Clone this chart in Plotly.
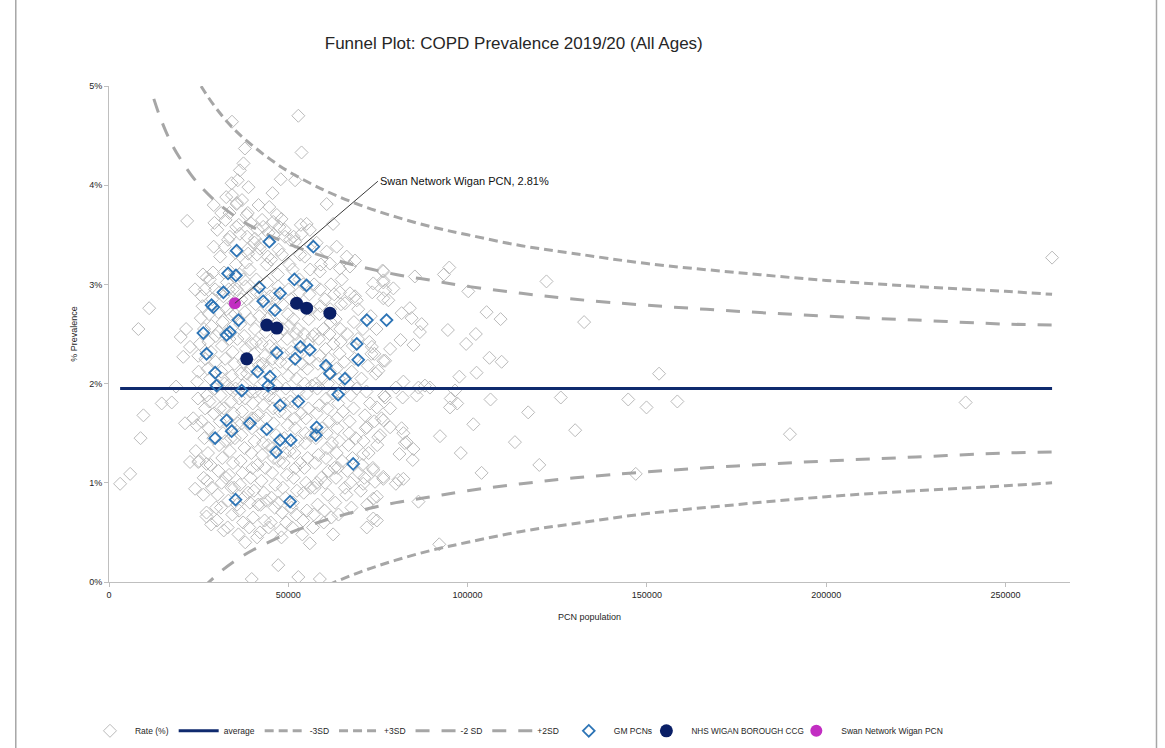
import plotly.graph_objects as go

# ---------------- DATA ----------------
# All England PCNs: (population in thousands, COPD prevalence %)
rate_points = [
    # sparse, left of the main cluster
    (3.1, 0.99), (5.9, 1.09), (8.8, 1.45), (9.6, 1.68), (8.2, 2.55), (11.2, 2.76),
    (14.7, 1.80), (17.5, 1.81), (18.7, 1.97), (21.8, 3.64), (20.0, 2.47), (21.5, 2.55),
    (22.6, 2.37), (20.7, 2.27), (24.0, 2.95), (27.2, 3.07), (21.2, 1.60), (23.5, 1.65),
    (22.6, 1.21), (24.9, 1.21), (27.2, 1.19), (24.0, 0.94), (27.2, 0.66),
    # upper part of cluster
    (34.3, 4.64), (52.8, 4.70), (53.7, 4.33), (37.5, 4.22), (37.9, 4.37), (47.9, 4.06),
    (45.6, 3.92), (51.9, 4.05), (60.7, 3.81), (62.5, 3.61), (34.2, 4.02), (35.6, 3.81),
    (38.4, 3.70), (46.8, 3.70), (48.1, 3.66), (45.8, 3.63), (43.0, 3.58), (40.7, 3.46),
    (42.1, 3.36), (38.8, 3.31), (36.5, 3.51), (33.7, 3.48), (49.1, 3.48), (51.9, 3.43),
    (55.1, 3.61), (56.0, 3.55), (53.7, 3.51), (60.7, 3.33), (63.5, 3.38), (66.3, 3.28),
    (68.6, 3.24), (61.6, 3.21), (64.4, 3.16), (67.2, 3.18), (58.8, 3.13), (76.5, 3.13),
    (76.5, 3.02), (73.7, 3.01), (64.4, 2.92), (67.2, 2.91), (69.1, 2.84), (65.8, 2.81),
    # right side, sparse
    (122.0, 3.03), (132.5, 2.62), (153.4, 2.10), (158.5, 1.82), (149.9, 1.76), (144.8, 1.84),
    (126.0, 1.86), (130.0, 1.53), (116.9, 1.71), (113.2, 1.41), (120.0, 1.18), (146.9, 1.09),
    (103.9, 1.10), (98.1, 1.30), (101.6, 1.59), (92.3, 1.47), (92.1, 0.38), (106.4, 1.84),
    (109.5, 2.22), (106.1, 2.26), (102.5, 2.11), (97.7, 2.07), (99.6, 2.40), (102.3, 2.50),
    (94.5, 2.54), (105.3, 2.72), (109.2, 2.65), (100.2, 2.93), (93.4, 3.10), (94.9, 3.17),
    (85.3, 3.08), (95.3, 1.85), (97.1, 1.80), (95.1, 1.76), (96.5, 1.93), (88.1, 1.98),
    (89.5, 1.96), (86.3, 1.96), (82.1, 2.02), (80.0, 1.96), (81.9, 1.86), (76.7, 1.88),
    (81.0, 1.29), (84.7, 1.23), (84.9, 1.34), (82.5, 1.40), (82.1, 1.50), (80.0, 0.99),
    (80.7, 1.03), (82.1, 1.04), (76.5, 1.04), (74.2, 1.01), (73.7, 0.84), (74.7, 0.62),
    (86.3, 0.81), (85.8, 1.88), (78.4, 1.75), (76.5, 1.63), (78.4, 1.56), (75.6, 1.48),
    (81.6, 1.55), (83.0, 1.41), (87.2, 2.60), (86.7, 2.52), (83.9, 2.76), (84.4, 2.66),
    (81.6, 2.71), (84.9, 2.39), (81.3, 2.44), (78.4, 2.35), (77.0, 2.23), (77.0, 2.94),
    (79.3, 2.96), (76.5, 3.04), (76.3, 3.14), (76.5, 2.86), (77.9, 2.84),
    (263.0, 3.27), (238.9, 1.81), (189.9, 1.49),
    # bottom
    (39.8, 0.03), (52.8, 0.05), (58.8, 0.03), (47.2, 0.17), (62.5, 0.48), (56.0, 0.39),
    # right edge of cluster
    (76.5, 2.23), (75.1, 2.13), (77.0, 1.86), (74.7, 1.76), (76.0, 1.65), (71.9, 1.56),
    (75.1, 1.46), (70.9, 1.29), (73.7, 1.13), (76.5, 1.06), (70.9, 0.99), (74.7, 0.86),
    (73.7, 0.64), (71.9, 0.55), (73.3, 2.37), (74.0, 2.30),
    # dense cluster, 24-27k
    (24.2, 1.32), (24.5, 1.58), (24.8, 1.85), (25.0, 2.12), (25.3, 2.40), (25.6, 2.66),
    (25.9, 2.88), (26.2, 3.10), (24.6, 2.02), (25.1, 1.22), (26.4, 1.05), (26.6, 1.45),
    (26.8, 1.75), (26.9, 2.25), (26.5, 2.55), (26.7, 2.95), (25.8, 1.62), (26.1, 2.78),
    (24.9, 2.28), (26.3, 0.88),
    # 27-30k
    (27.2, 0.70), (27.4, 1.02), (27.6, 1.30), (27.8, 1.55), (28.0, 1.82), (28.2, 2.05),
    (28.4, 2.32), (28.6, 2.58), (28.8, 2.85), (29.0, 3.12), (29.2, 3.38), (29.4, 3.62),
    (27.5, 2.15), (27.9, 2.70), (28.3, 1.18), (28.7, 0.95), (29.1, 1.45), (29.3, 1.70),
    (29.5, 1.95), (29.7, 2.22), (29.8, 2.48), (29.6, 2.95), (28.1, 3.05), (27.3, 1.88),
    (29.9, 0.75), (28.5, 0.58), (29.2, 3.80), (27.7, 2.42),
    # 30-33k
    (30.1, 0.62), (30.3, 0.88), (30.5, 1.12), (30.7, 1.38), (30.9, 1.62), (31.1, 1.88),
    (31.3, 2.12), (31.5, 2.38), (31.7, 2.62), (31.9, 2.88), (32.1, 3.12), (32.3, 3.38),
    (32.5, 3.65), (32.7, 3.88), (30.4, 1.98), (30.6, 2.52), (30.8, 2.92), (31.0, 3.28),
    (31.2, 0.75), (31.4, 1.00), (31.6, 1.25), (31.8, 1.50), (32.0, 1.75), (32.2, 2.00),
    (32.4, 2.25), (32.6, 2.50), (32.8, 2.75), (32.9, 3.02), (30.2, 3.55), (31.3, 3.72),
    (32.0, 0.52), (32.6, 1.05), (30.9, 1.75), (32.4, 1.42), (31.6, 2.05), (30.5, 2.72),
    # 33-36k
    (33.1, 0.55), (33.3, 0.82), (33.5, 1.08), (33.7, 1.32), (33.9, 1.58), (34.1, 1.82),
    (34.3, 2.08), (34.5, 2.32), (34.7, 2.58), (34.9, 2.82), (35.1, 3.08), (35.3, 3.32),
    (35.5, 3.58), (35.7, 3.82), (35.9, 4.05), (33.2, 3.45), (33.4, 2.95), (33.6, 2.45),
    (33.8, 1.95), (34.0, 1.45), (34.2, 0.95), (34.4, 0.68), (34.6, 1.20), (34.8, 1.70),
    (35.0, 2.20), (35.2, 2.70), (35.4, 3.20), (35.6, 2.95), (35.8, 2.45), (35.3, 1.95),
    (35.1, 1.45), (34.9, 0.95), (35.7, 0.78), (33.6, 3.72), (34.3, 3.90), (35.9, 1.60),
    (33.9, 2.70), (34.6, 2.95),
    # 36-39k
    (36.1, 0.48), (36.3, 0.72), (36.5, 0.98), (36.7, 1.22), (36.9, 1.48), (37.1, 1.72),
    (37.3, 1.98), (37.5, 2.22), (37.7, 2.48), (37.9, 2.72), (38.1, 2.98), (38.3, 3.22),
    (38.5, 3.48), (38.7, 3.72), (38.9, 3.98), (36.2, 3.60), (36.4, 3.10), (36.6, 2.60),
    (36.8, 2.10), (37.0, 1.60), (37.2, 1.10), (37.4, 0.60), (37.6, 0.85), (37.8, 1.35),
    (38.0, 1.85), (38.2, 2.35), (38.4, 2.85), (38.6, 3.35), (38.8, 0.90), (38.9, 1.60),
    (36.3, 1.85), (37.5, 3.05), (38.0, 0.40), (36.9, 2.85), (38.5, 2.10), (37.1, 3.85),
    (36.5, 4.15),
    # 39-42k
    (39.1, 0.55), (39.3, 0.80), (39.5, 1.05), (39.7, 1.30), (39.9, 1.55), (40.1, 1.80),
    (40.3, 2.05), (40.5, 2.30), (40.7, 2.55), (40.9, 2.80), (41.1, 3.05), (41.3, 3.30),
    (41.5, 3.55), (41.7, 3.80), (39.2, 3.15), (39.4, 2.65), (39.6, 2.15), (39.8, 1.65),
    (40.0, 1.15), (40.2, 0.65), (40.4, 0.92), (40.6, 1.42), (40.8, 1.92), (41.0, 2.42),
    (41.2, 2.92), (41.4, 1.18), (41.6, 1.68), (41.8, 2.18), (41.9, 2.68), (39.5, 3.62),
    (40.6, 3.42), (41.3, 0.45), (39.8, 2.40), (40.4, 1.65), (41.6, 0.78), (39.3, 1.92),
    # 42-45k
    (42.1, 0.50), (42.3, 0.78), (42.5, 1.02), (42.7, 1.28), (42.9, 1.52), (43.1, 1.78),
    (43.3, 2.02), (43.5, 2.28), (43.7, 2.52), (43.9, 2.78), (44.1, 3.02), (44.3, 3.28),
    (44.5, 3.52), (44.7, 3.78), (42.2, 3.40), (42.4, 2.90), (42.6, 2.40), (42.8, 1.90),
    (43.0, 1.40), (43.2, 0.90), (43.4, 0.62), (43.6, 1.15), (43.8, 1.65), (44.0, 2.15),
    (44.2, 2.65), (44.4, 1.38), (44.6, 1.88), (44.8, 2.38), (44.9, 2.88), (42.7, 3.65),
    (43.9, 0.82), (44.5, 0.55), (42.9, 2.20), (44.0, 3.20),
    # 45-48k
    (45.1, 0.60), (45.3, 0.85), (45.5, 1.10), (45.7, 1.35), (45.9, 1.60), (46.1, 1.85),
    (46.3, 2.10), (46.5, 2.35), (46.7, 2.60), (46.9, 2.85), (47.1, 3.10), (47.3, 3.35),
    (47.5, 3.58), (45.2, 3.25), (45.4, 2.75), (45.6, 2.25), (45.8, 1.75), (46.0, 1.25),
    (46.2, 0.75), (46.4, 0.98), (46.6, 1.48), (46.8, 1.98), (47.0, 2.48), (47.2, 2.98),
    (47.4, 1.22), (47.6, 1.72), (47.8, 2.22), (47.9, 0.52), (45.9, 3.50), (47.2, 0.80),
    (46.3, 2.90), (45.4, 1.95),
    # 48-51k
    (48.1, 0.45), (48.3, 0.70), (48.5, 0.95), (48.7, 1.20), (48.9, 1.45), (49.1, 1.70),
    (49.3, 1.95), (49.5, 2.20), (49.7, 2.45), (49.9, 2.70), (50.1, 2.95), (50.3, 3.20),
    (50.5, 3.45), (48.2, 3.30), (48.4, 2.80), (48.6, 2.30), (48.8, 1.80), (49.0, 1.30),
    (49.2, 0.85), (49.4, 0.60), (49.6, 1.08), (49.8, 1.58), (50.0, 2.08), (50.2, 2.58),
    (50.4, 1.32), (50.6, 1.82), (50.8, 2.32), (50.9, 0.75), (49.0, 3.55), (48.5, 2.55),
    (50.7, 2.85),
    # 51-54k
    (51.1, 0.55), (51.3, 0.80), (51.5, 1.05), (51.7, 1.30), (51.9, 1.55), (52.1, 1.80),
    (52.3, 2.05), (52.5, 2.30), (52.7, 2.55), (52.9, 2.80), (53.1, 3.05), (53.3, 3.30),
    (51.2, 3.15), (51.4, 2.65), (51.6, 2.15), (51.8, 1.65), (52.0, 1.15), (52.2, 0.68),
    (52.4, 0.92), (52.6, 1.42), (52.8, 1.92), (53.0, 2.42), (53.2, 2.92), (53.4, 1.20),
    (53.6, 1.70), (53.8, 2.20), (53.9, 0.48), (51.5, 3.48), (53.5, 3.60), (52.2, 2.50),
    # 54-57k
    (54.1, 0.62), (54.3, 0.90), (54.5, 1.15), (54.7, 1.40), (54.9, 1.65), (55.1, 1.90),
    (55.3, 2.15), (55.5, 2.40), (55.7, 2.65), (55.9, 2.90), (56.1, 3.15), (56.3, 3.40),
    (54.2, 3.00), (54.4, 2.50), (54.6, 2.00), (54.8, 1.50), (55.0, 1.00), (55.2, 0.72),
    (55.4, 1.25), (55.6, 1.75), (55.8, 2.25), (56.0, 2.75), (56.2, 0.95), (56.4, 1.48),
    (56.6, 1.98), (56.8, 2.48), (56.9, 0.55), (54.6, 3.28),
    # 57-60k
    (57.1, 0.68), (57.3, 0.95), (57.5, 1.20), (57.7, 1.45), (57.9, 1.70), (58.1, 1.95),
    (58.3, 2.20), (58.5, 2.45), (58.7, 2.70), (58.9, 2.95), (59.1, 3.20), (57.2, 3.00),
    (57.4, 2.50), (57.6, 2.00), (57.8, 1.50), (58.0, 1.00), (58.2, 0.78), (58.4, 1.28),
    (58.6, 1.78), (58.8, 2.28), (59.0, 2.78), (59.2, 1.05), (59.4, 1.55), (59.6, 2.05),
    (59.8, 2.55), (59.9, 0.60), (57.9, 3.42),
    # 60-63k
    (60.1, 0.72), (60.3, 1.00), (60.5, 1.25), (60.7, 1.50), (60.9, 1.75), (61.1, 2.00),
    (61.3, 2.25), (61.5, 2.50), (61.7, 2.75), (61.9, 3.00), (60.2, 2.85), (60.4, 2.35),
    (60.6, 1.85), (60.8, 1.35), (61.0, 0.88), (61.2, 1.12), (61.4, 1.62), (61.6, 2.12),
    (61.8, 2.62), (62.0, 0.65), (62.2, 1.40), (62.4, 1.90), (62.6, 2.40), (62.8, 2.90),
    (62.9, 1.15),
    # 63-66k
    (63.1, 0.80), (63.3, 1.05), (63.5, 1.30), (63.7, 1.55), (63.9, 1.80), (64.1, 2.05),
    (64.3, 2.30), (64.5, 2.55), (64.7, 2.80), (64.9, 3.05), (63.2, 2.65), (63.4, 2.15),
    (63.6, 1.65), (63.8, 1.15), (64.0, 0.68), (64.2, 1.42), (64.4, 1.92), (64.6, 2.42),
    (65.0, 1.22), (65.3, 1.72), (65.6, 2.22), (65.8, 0.95),
    # 66-70k
    (66.2, 0.88), (66.5, 1.12), (66.8, 1.38), (67.1, 1.62), (67.4, 1.88), (67.7, 2.12),
    (68.0, 2.38), (68.3, 2.62), (68.6, 2.88), (66.4, 2.50), (66.7, 2.00), (67.0, 1.50),
    (67.3, 1.00), (67.6, 0.75), (67.9, 1.25), (68.2, 1.75), (68.5, 2.25), (68.8, 1.45),
    (69.1, 1.95), (69.4, 2.45), (69.7, 1.10), (69.5, 2.75),
    # 70-75k
    (70.2, 0.92), (70.6, 1.18), (71.0, 1.42), (71.4, 1.68), (71.8, 1.92), (72.2, 2.18),
    (72.6, 2.42), (73.0, 2.68), (73.4, 2.92), (70.4, 2.05), (70.8, 2.55), (71.2, 1.05),
    (71.6, 1.55), (72.0, 0.78), (72.4, 1.30), (72.8, 1.80), (73.2, 2.30), (73.6, 1.15),
    (74.0, 1.62), (74.4, 2.10), (74.8, 1.38), (74.6, 2.55),
]

# Greater Manchester PCNs (population in thousands, prevalence %)
gm_points = [
    (35.6, 3.34), (33.2, 3.11), (35.4, 3.09), (31.9, 2.92), (29.1, 2.77), (28.6, 2.79),
    (26.3, 2.51), (27.2, 2.30), (29.6, 2.11), (30.0, 1.98), (32.8, 1.63), (34.2, 1.52),
    (29.6, 1.45), (35.3, 0.83), (32.8, 2.49), (33.7, 2.52), (36.1, 2.64), (44.7, 3.43),
    (57.0, 3.38), (41.9, 2.97), (43.0, 2.83), (47.7, 2.91), (46.3, 2.74), (51.7, 3.05),
    (55.1, 2.99), (71.9, 2.64), (77.4, 2.64), (46.8, 2.31), (51.9, 2.25), (53.4, 2.37),
    (56.0, 2.34), (60.5, 2.18), (61.6, 2.10), (65.8, 2.05), (69.1, 2.40), (69.5, 2.24),
    (41.4, 2.12), (44.9, 2.07), (44.4, 1.98), (37.0, 1.93), (47.7, 1.78), (52.8, 1.82),
    (63.9, 1.89), (39.3, 1.60), (44.0, 1.54), (47.7, 1.43), (50.7, 1.43), (46.6, 1.31),
    (57.9, 1.56), (57.7, 1.48), (68.1, 1.19), (50.5, 0.81),
]

# NHS Wigan Borough CCG PCNs
wigan_points = [(38.4, 2.25), (44.0, 2.59), (46.8, 2.56), (52.3, 2.81), (55.1, 2.76), (61.6, 2.71)]

# Highlighted PCN
swan_name = "Swan Network Wigan PCN"
swan_point = (35.1, 2.81)

average_pct = 1.95

# Control limits (population in thousands, %)
limit_pop_k = [12.5, 14, 16, 18, 20, 23, 26, 30, 35, 40, 45, 50, 60, 70, 80, 90, 100,
               115, 130, 150, 175, 200, 225, 250, 263]
upper_3sd = [6.32, 6.08, 5.82, 5.60, 5.41, 5.17, 4.98, 4.77, 4.56, 4.40, 4.26, 4.14, 3.95,
             3.80, 3.68, 3.58, 3.50, 3.39, 3.31, 3.21, 3.12, 3.04, 2.98, 2.93, 2.90]
lower_3sd = [-2.42, -2.18, -1.92, -1.70, -1.51, -1.27, -1.08, -0.87, -0.66, -0.50, -0.36,
             -0.24, -0.05, 0.10, 0.22, 0.32, 0.40, 0.51, 0.59, 0.69, 0.78, 0.86, 0.92, 0.97, 1.00]
upper_2sd = [4.87, 4.71, 4.53, 4.38, 4.26, 4.10, 3.97, 3.83, 3.69, 3.58, 3.49, 3.41, 3.28,
             3.18, 3.10, 3.04, 2.98, 2.91, 2.85, 2.79, 2.73, 2.68, 2.64, 2.60, 2.59]
lower_2sd = [-0.97, -0.81, -0.63, -0.48, -0.36, -0.20, -0.07, 0.07, 0.21, 0.32, 0.41, 0.49,
             0.62, 0.72, 0.80, 0.86, 0.92, 0.99, 1.05, 1.11, 1.17, 1.22, 1.26, 1.30, 1.31]

x_ticks = [0, 50000, 100000, 150000, 200000, 250000]
y_ticks = [0, 1, 2, 3, 4, 5]
y_tick_labels = ["0%", "1%", "2%", "3%", "4%", "5%"]

# ---------------- FIGURE ----------------
FONT = "Liberation Sans Narrow, Liberation Sans, Arial, sans-serif"
TEXT = "#262626"
K = 1000

rate_x = [p[0] * K for p in rate_points]
rate_y = [p[1] for p in rate_points]
gm_x = [p[0] * K for p in gm_points]
gm_y = [p[1] for p in gm_points]
wig_x = [p[0] * K for p in wigan_points]
wig_y = [p[1] for p in wigan_points]
lim_x = [v * K for v in limit_pop_k]

fig = go.Figure()

fig.add_trace(go.Scatter(
    x=rate_x, y=rate_y, mode="markers", name="Rate (%)",
    marker=dict(symbol="diamond-open", size=10, color="#bababa", line=dict(width=1)),
))
fig.add_trace(go.Scatter(
    x=[min(rate_x), max(rate_x)], y=[average_pct, average_pct], mode="lines", name="average",
    line=dict(color="#0f2a6e", width=3),
))
grey = "#a6a6a6"
fig.add_trace(go.Scatter(x=lim_x, y=lower_3sd, mode="lines", name="-3SD",
                         line=dict(color=grey, width=3, dash="9px,5px", shape="spline")))
fig.add_trace(go.Scatter(x=lim_x, y=upper_3sd, mode="lines", name="+3SD",
                         line=dict(color=grey, width=3, dash="9px,5px", shape="spline")))
fig.add_trace(go.Scatter(x=lim_x, y=lower_2sd, mode="lines", name="-2 SD",
                         line=dict(color=grey, width=3, dash="14px,12px", shape="spline")))
fig.add_trace(go.Scatter(x=lim_x, y=upper_2sd, mode="lines", name="+2SD",
                         line=dict(color=grey, width=3, dash="14px,12px", shape="spline")))
fig.add_trace(go.Scatter(
    x=gm_x, y=gm_y, mode="markers", name="GM PCNs",
    marker=dict(symbol="diamond-open", size=9, color="#2e75b6", line=dict(width=1.8)),
))
fig.add_trace(go.Scatter(
    x=wig_x, y=wig_y, mode="markers", name="NHS WIGAN BOROUGH CCG",
    marker=dict(symbol="circle", size=13, color="#0a1f66"), legend="legend2",
))
fig.add_trace(go.Scatter(
    x=[swan_point[0] * K], y=[swan_point[1]], mode="markers", name=swan_name,
    marker=dict(symbol="circle", size=12, color="#c22ec2"), legend="legend3",
))

fig.add_annotation(
    x=swan_point[0] * K, y=swan_point[1], xref="x", yref="y",
    text=f"{swan_name}, {swan_point[1]:.2f}%",
    showarrow=True, arrowhead=0, arrowwidth=1, arrowcolor="#3a3a3a",
    ax=143, ay=-122, xanchor="left", yanchor="middle",
    font=dict(family=FONT, size=11, color="#111111"),
)

# chart-area border (left / right edges visible in the reference)
for xb in (-0.097, 1.09):
    fig.add_shape(type="line", xref="paper", yref="paper", x0=xb, x1=xb, y0=-0.35, y1=1.2,
                  line=dict(color="#a6a6a6", width=1.5))


def legend_style(x, size=8.5):
    return dict(x=x, orientation="h", xanchor="left", y=-0.30, yanchor="middle",
                font=dict(family=FONT, size=size, color=TEXT), itemwidth=40,
                bgcolor="rgba(0,0,0,0)", borderwidth=0)


fig.update_layout(
    template="none",
    width=1165, height=748,
    paper_bgcolor="white", plot_bgcolor="white",
    margin=dict(l=109, r=95, t=86, b=166, autoexpand=False),
    font=dict(family=FONT, size=9, color=TEXT),
    title=dict(text="Funnel Plot: COPD Prevalence 2019/20 (All Ages)",
               x=0.441, xanchor="center", xref="container",
               y=1 - 43 / 748, yanchor="middle", yref="container",
               font=dict(family=FONT, size=17, color=TEXT)),
    showlegend=True,
    legend=legend_style(-0.025),
    legend2=legend_style(0.554, 8.2),
    legend3=legend_style(0.71),
    xaxis=dict(range=[0, 268000], tickvals=x_ticks, tickformat="d",
               showline=True, linecolor="#bfbfbf", linewidth=1,
               ticks="outside", ticklen=4, tickcolor="#bfbfbf",
               showgrid=False, zeroline=False,
               tickfont=dict(size=9, color=TEXT),
               title=dict(text="PCN population", standoff=14, font=dict(size=9, color=TEXT))),
    yaxis=dict(range=[0, 5], tickvals=y_ticks, ticktext=y_tick_labels,
               showline=True, linecolor="#bfbfbf", linewidth=1,
               ticks="outside", ticklen=4, tickcolor="#bfbfbf",
               showgrid=False, zeroline=False,
               tickfont=dict(size=9, color=TEXT),
               title=dict(text="% Prevalence", standoff=10, font=dict(size=9, color=TEXT))),
)

fig.write_html("out.html", config={"displayModeBar": False},
               post_script="document.body.style.margin='0';")
